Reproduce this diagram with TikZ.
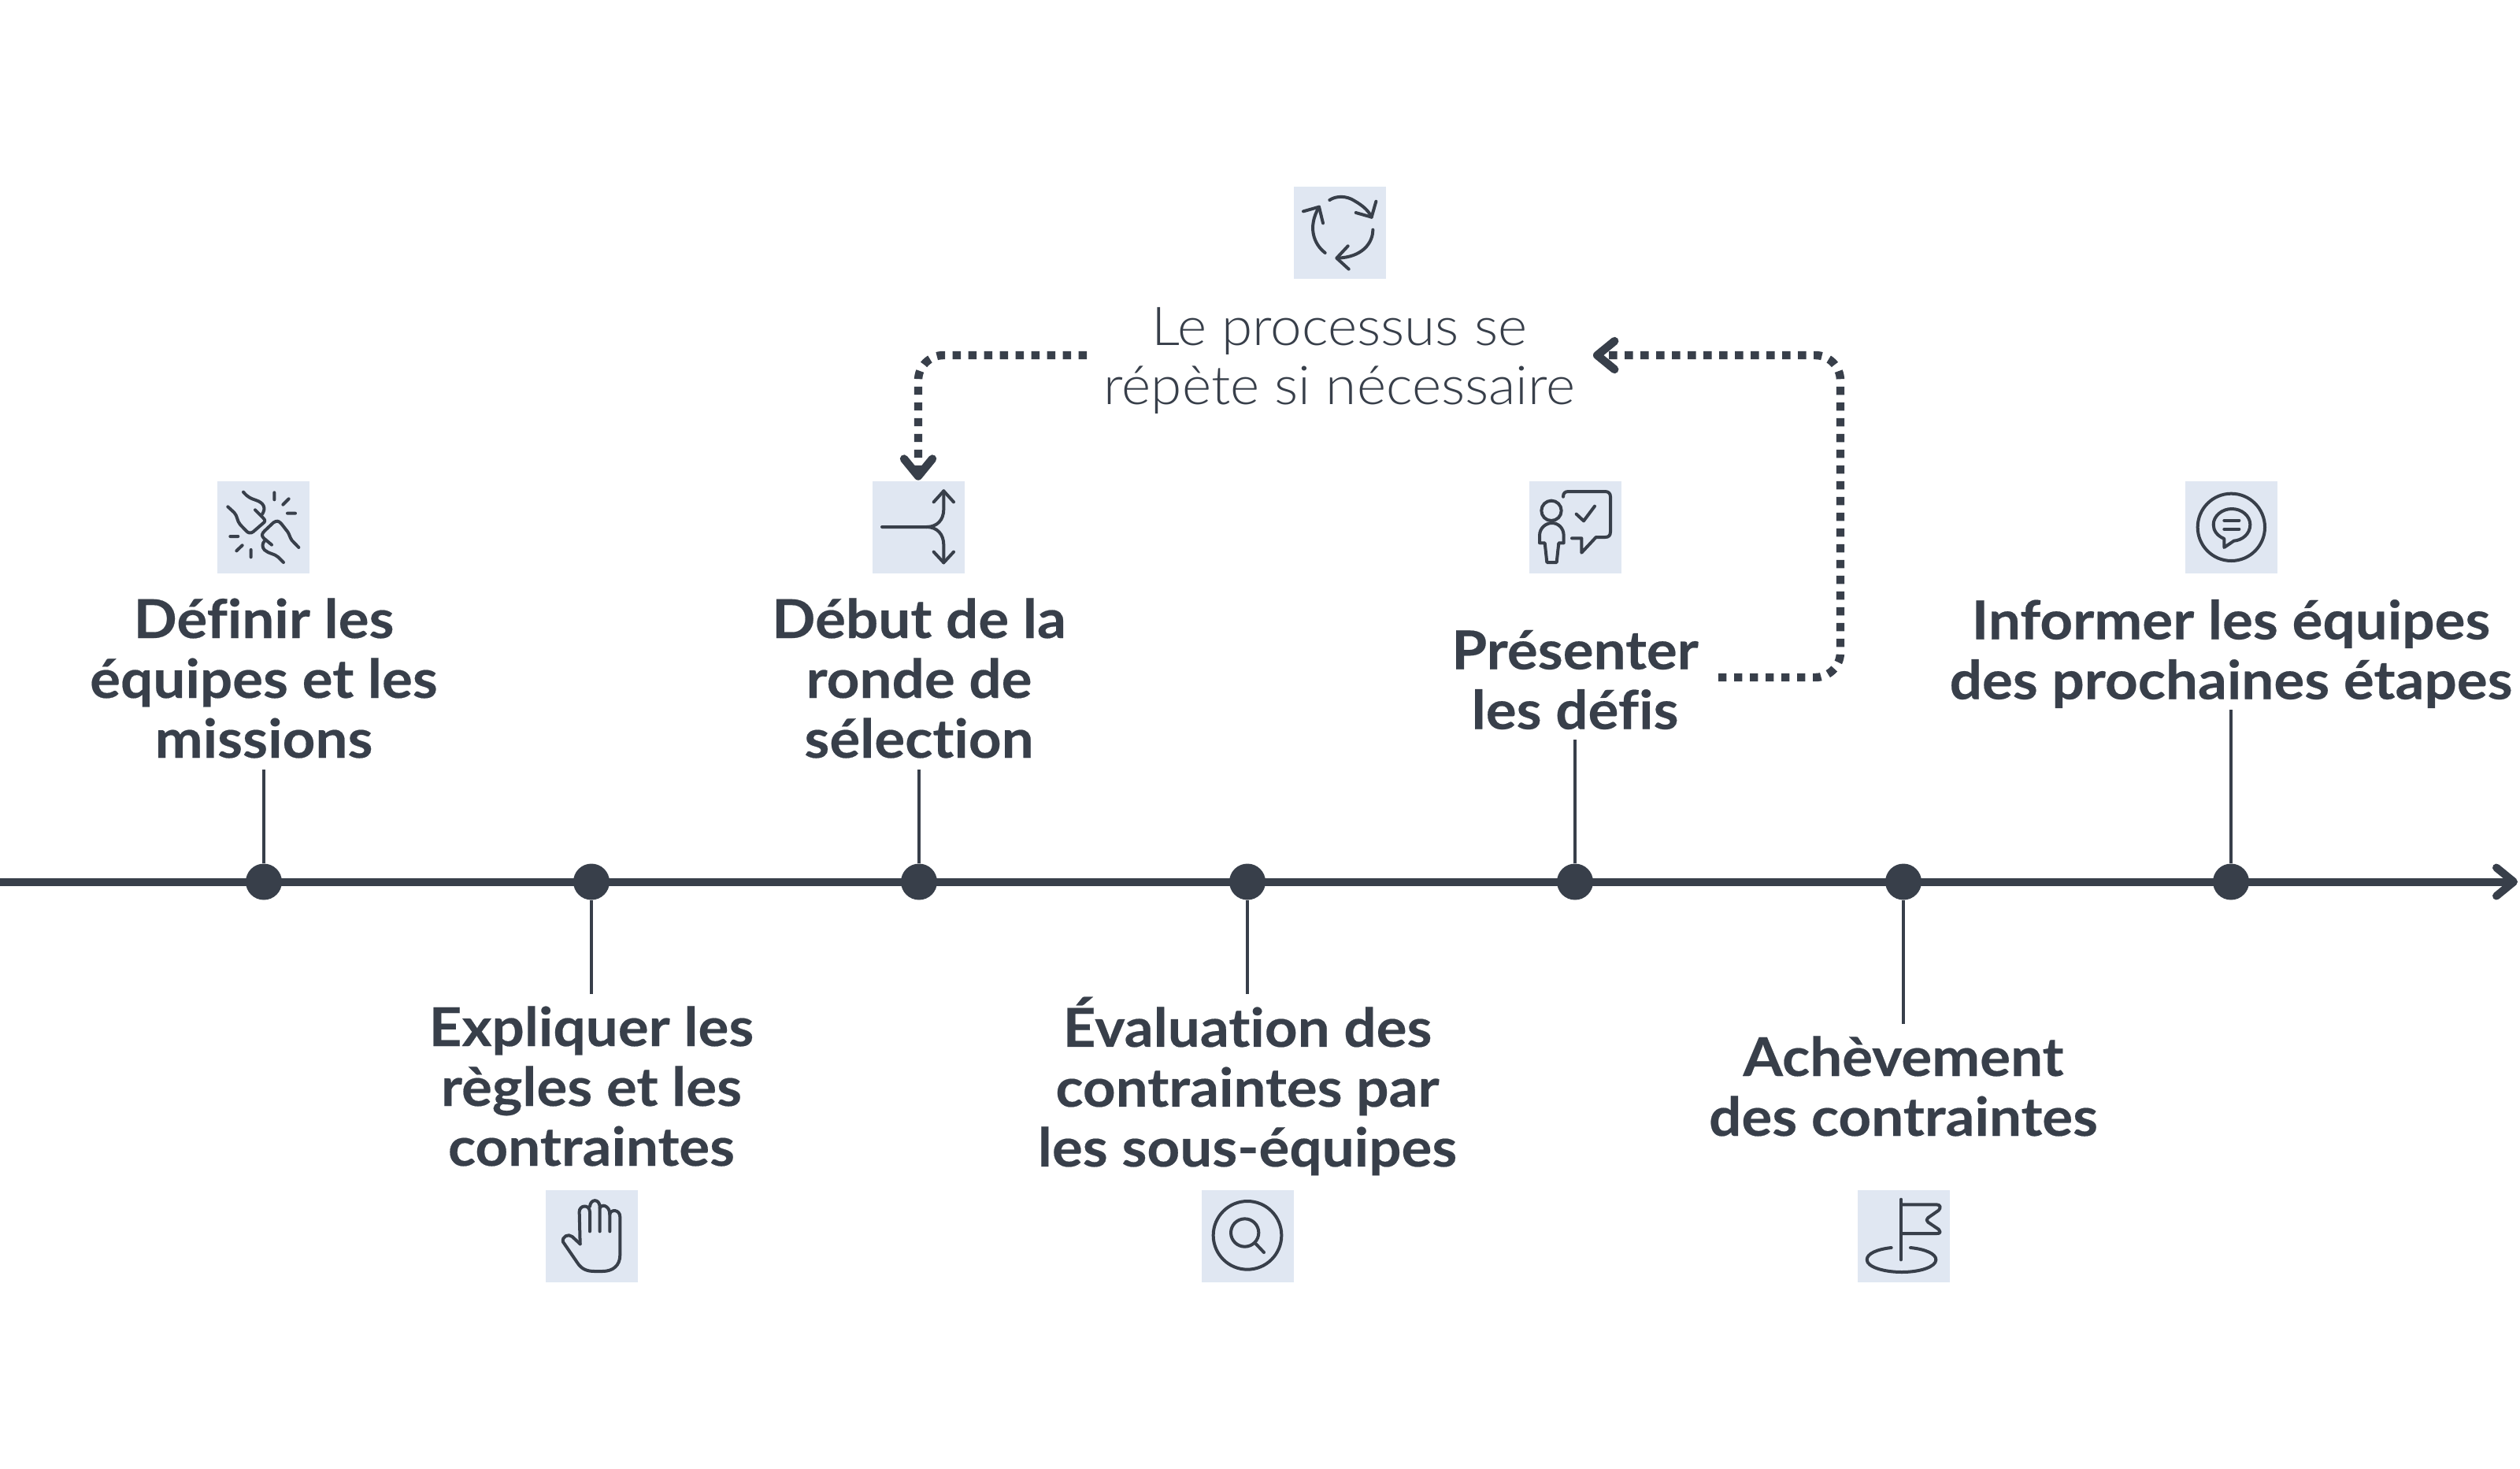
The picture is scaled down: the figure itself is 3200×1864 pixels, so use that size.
\documentclass[tikz,border=0pt]{standalone}
\usepackage{fontspec}
\setmainfont[Ligatures=NoCommon,FakeStretch=1.07,BoldFeatures={FakeBold=0.3}]{Lato}
\newfontfamily\lightfont[Ligatures=NoCommon,FakeStretch=1.045]{Lato Light}
\usetikzlibrary{arrows.meta}
\definecolor{ink}{HTML}{383F4A}
\definecolor{tile}{HTML}{E0E7F2}
\tikzset{
  stepstyle/.style={text=ink,align=center,inner sep=0pt,font=\fontsize{17}{19}\selectfont\bfseries},
  notestyle/.style={text=ink,align=center,inner sep=0pt,font=\fontsize{17}{18.7}\selectfont\lightfont},
  tilebox/.style={fill=tile,minimum size=29.25pt,inner sep=0pt},
  bullet/.style={circle,fill=ink,minimum size=11.5pt,inner sep=0pt},
  stem/.style={draw=ink,line width=1.1pt},
  axisline/.style={draw=ink,line width=2.5pt,-{Straight Barb[round,length=5.5pt,width=9pt,line width=2.5pt]}},
  loopline/.style={draw=ink,line width=2.6pt,dash pattern=on 2.6pt off 2.4pt,rounded corners=8pt,-{Straight Barb[round,length=5.5pt,width=9pt,line width=2.6pt]}},
  iconline/.style={draw=ink,line width=1pt,line cap=round,line join=round},
  zoomat/.style 2 args={shift={(#1,#2)},x=0.08333pt,y=-0.08333pt}
}
\begin{document}
\begin{tikzpicture}[x=0.25pt,y=-0.25pt]
\path[use as bounding box,fill=white] (0,0) rectangle (3200,1864);

% axis
\coordinate (axisA) at (0,1119.5);
\coordinate (axisB) at (3197,1119.5);
\draw[axisline] (axisA) -- (axisB);

% bullets
\node[bullet] (b1) at (335,1119.5) {};
\node[bullet] (b2) at (751,1119.5) {};
\node[bullet] (b3) at (1167,1119.5) {};
\node[bullet] (b4) at (1584,1119.5) {};
\node[bullet] (b5) at (2000,1119.5) {};
\node[bullet] (b6) at (2417,1119.5) {};
\node[bullet] (b7) at (2833,1119.5) {};

% stems
\coordinate (s1) at (335,977);
\coordinate (s2) at (751,1262);
\coordinate (s3) at (1167,977);
\coordinate (s4) at (1584,1262);
\coordinate (s5) at (2000,939);
\coordinate (s6) at (2417,1300);
\coordinate (s7) at (2833,901);
\foreach \n in {1,...,7}{\draw[stem] (b\n) -- (s\n);}

% labels
\node[stepstyle] (t1) at (335,861) {Définir les\\équipes et les\\missions};
\node[stepstyle] (t2) at (751,1379) {Expliquer les\\règles et les\\contraintes};
\node[stepstyle] (t3) at (1167,861) {Début de la\\ronde de\\sélection};
\node[stepstyle] (t4) at (1584,1379) {Évaluation des\\contraintes par\\les sous-équipes};
\node[stepstyle] (t5) at (2000,863) {Présenter\\les défis};
\node[stepstyle] (t6) at (2417,1379) {Achèvement\\des contraintes};
\node[stepstyle] (t7) at (2833,830) {Informer les équipes\\des prochaines étapes};
\node[notestyle] (note) at (1701,458) {Le processus se\\répète si nécessaire};

% tiles
\node[tilebox] (i1) at (334.5,669) {};
\node[tilebox] (i3) at (1166,669) {};
\node[tilebox] (i5) at (2000,669) {};
\node[tilebox] (i7) at (2833,669) {};
\node[tilebox] (i0) at (1701,295) {};
\node[tilebox] (i2) at (751,1569) {};
\node[tilebox] (i4) at (1584,1569) {};
\node[tilebox] (i6) at (2417,1569) {};

% loop connectors
\coordinate (la) at (1380,451);
\draw[loopline] (la) -| (i3.north);
\coordinate (lb) at (2182,860);
\coordinate (lc) at (2337,860);
\coordinate (ld) at (2337,451);
\coordinate (le) at (2023,451);
\draw[loopline] (lb) -- (lc) -- (ld) -- (le);

% icon 1: fists
\begin{scope}[zoomat={260}{600}]
\draw[iconline] (147,74) .. controls (165,95) and (175,98) .. (195,105) .. controls (225,115) and (235,135) .. (218,160);
\draw[iconline] (192,142) -- (222,172) .. controls (232,182) and (230,187) .. (222,193) -- (185,225) .. controls (175,233) and (165,230) .. (158,222) -- (135,198) .. controls (122,183) and (125,165) .. (112,152) -- (88,130);
\draw[iconline] (358,285) -- (332,258) .. controls (322,245) and (325,235) .. (310,218) -- (292,195) .. controls (280,182) and (275,183) .. (262,190) -- (228,222) .. controls (218,232) and (215,240) .. (225,250) -- (255,275);
\draw[iconline] (300,342) -- (280,322) .. controls (265,308) and (245,310) .. (228,295) .. controls (218,285) and (218,270) .. (228,260);
\draw[iconline] (265,76) -- (265,103) (320,100) -- (298,122) (315,155) -- (345,155) (97,243) -- (127,243) (143,277) -- (121,298) (176,294) -- (176,322);
\end{scope}

% icon 3: split
\begin{scope}[zoomat={1095}{600}]
\draw[iconline] (75,207) -- (245,207) .. controls (285,207) and (310,180) .. (310,140) -- (310,70);
\draw[iconline] (272,112) -- (310,70) -- (348,112);
\draw[iconline] (245,207) .. controls (285,207) and (310,235) .. (310,275) -- (310,343);
\draw[iconline] (272,302) -- (310,343) -- (348,302);
\end{scope}

% icon 5: presenter
\begin{scope}[zoomat={1930}{600}]
\draw[iconline] (120,145) circle[radius=38];
\draw[iconline] (103,342) -- (95,268) -- (75,268) -- (75,240) .. controls (75,210) and (100,192) .. (122,192) .. controls (145,192) and (167,210) .. (167,240) -- (167,268) -- (148,268) -- (140,342) -- cycle;
\draw[iconline] (165,92) .. controls (165,78) and (172,72) .. (185,72) -- (325,72) .. controls (338,72) and (345,80) .. (345,92) -- (345,225) .. controls (345,240) and (338,246) .. (325,246) -- (290,246) -- (235,305) -- (235,250) -- (198,250);
\draw[iconline] (215,158) -- (243,184) -- (285,128);
\end{scope}

% icon 7: speech circle
\begin{scope}[zoomat={2765}{600}]
\draw[iconline] (205,208) circle[radius=128];
\draw[iconline] (178,285) -- (178,252) .. controls (150,240) and (137,220) .. (137,198) .. controls (137,165) and (170,138) .. (207,138) .. controls (245,138) and (277,165) .. (277,198) .. controls (277,235) and (245,258) .. (215,260) -- cycle;
\draw[iconline] (178,182) -- (235,182) (178,215) -- (235,215);
\end{scope}

% icon 0: cycle
\begin{scope}[zoomat={1630}{225}]
\draw[iconline] (175,87) .. controls (200,70) and (240,70) .. (270,90) .. controls (305,110) and (325,130) .. (335,152);
\draw[iconline] (275,135) -- (335,152) -- (352,92);
\draw[iconline] (340,200) .. controls (340,250) and (300,305) .. (205,308);
\draw[iconline] (245,262) -- (202,308) -- (248,350);
\draw[iconline] (158,288) .. controls (115,255) and (90,190) .. (135,113);
\draw[iconline] (75,130) -- (135,113) -- (150,175);
\end{scope}

% icon 2: hand
\begin{scope}[zoomat={680}{1500}]
\draw[iconline] (170,238) -- (140,210) .. controls (125,197) and (100,210) .. (105,230) -- (160,310) .. controls (175,333) and (195,342) .. (225,342) -- (255,342) .. controls (295,342) and (322,320) .. (322,280) -- (322,135) .. controls (322,105) and (285,105) .. (283,125) -- (283,190);
\draw[iconline] (170,238) -- (167,115) .. controls (167,90) and (205,85) .. (207,115) -- (207,190);
\draw[iconline] (207,95) .. controls (210,65) and (243,65) .. (245,95) -- (245,190);
\draw[iconline] (245,100) .. controls (250,85) and (283,90) .. (283,125);
\end{scope}

% icon 4: magnifier
\begin{scope}[zoomat={1515}{1500}]
\draw[iconline] (207,205) circle[radius=130];
\draw[iconline] (197,195) circle[radius=53];
\draw[iconline] (235,233) -- (270,270);
\end{scope}

% icon 6: flag
\begin{scope}[zoomat={2350}{1500}]
\draw[iconline] (192,68) -- (192,298);
\draw[iconline] (192,88) -- (328,88) .. controls (342,88) and (345,100) .. (335,110) -- (295,138) .. controls (288,143) and (288,150) .. (295,155) -- (335,182) .. controls (345,195) and (340,198) .. (328,198) -- (192,198);
\draw[iconline] (155,252) .. controls (100,258) and (62,275) .. (62,298) .. controls (62,325) and (125,345) .. (195,345) .. controls (265,345) and (325,325) .. (325,298) .. controls (325,275) and (285,258) .. (228,252);
\end{scope}
\end{tikzpicture}
\end{document}
